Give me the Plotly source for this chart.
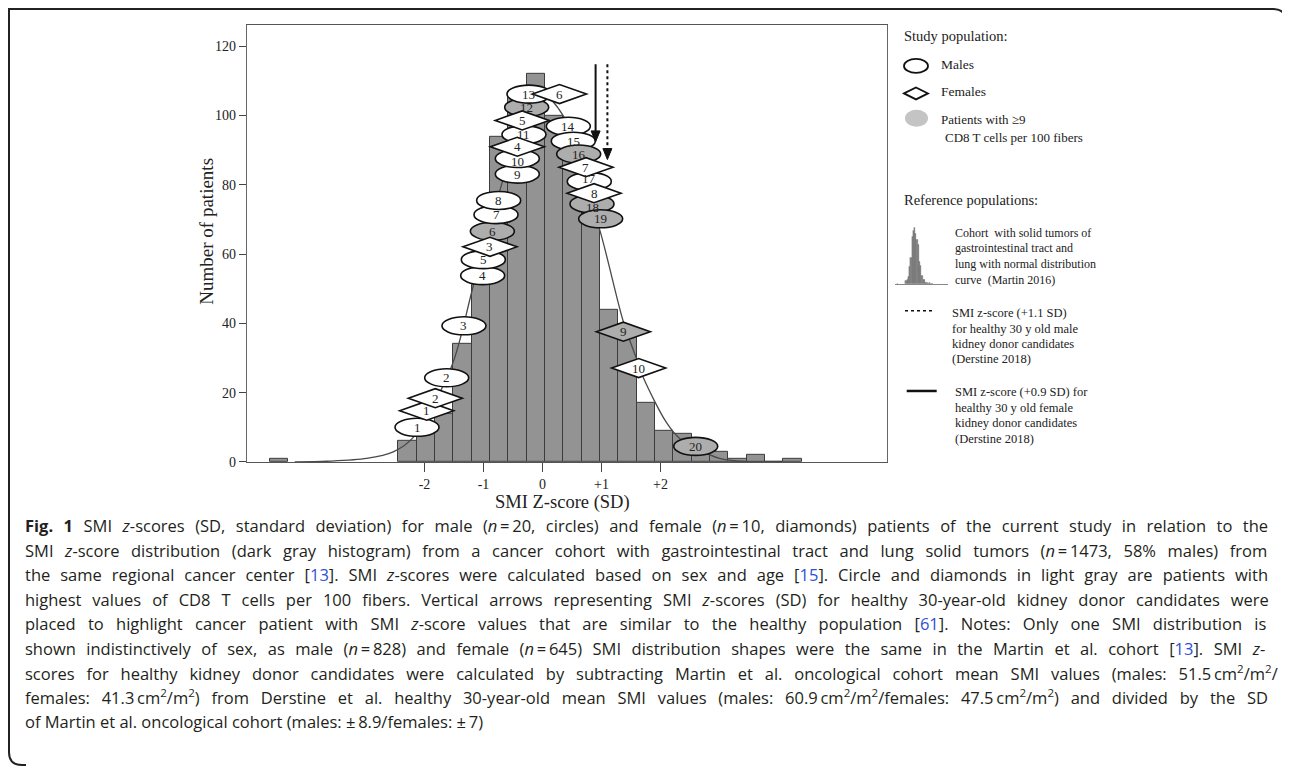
import plotly.graph_objects as go

# the page body has an 8px margin, so the figure is offset by 8px
OX, OY = 8, 8
FW, FH = 1282, 770

# ---------------- data ----------------
bin_centers = [-4.463, -2.289, -1.978, -1.667, -1.356, -1.046, -0.735, -0.424, -0.113,
               0.197, 0.508, 0.819, 1.130, 1.440, 1.751, 2.062, 2.373, 2.683, 2.994,
               3.305, 3.616, 3.926, 4.237]
counts = [1, 6, 8, 14, 34, 51, 94, 105, 112, 100, 88, 78, 44, 36, 17, 9, 8, 2, 3, 1, 2, 0, 1]
bin_width = 0.3107

curve_z = [-4.2, -3.65, -2.98, -2.53, -2.19, -1.54, -1.17, -0.66, -0.30, 0.0, 0.35,
           0.975, 1.37, 1.60, 1.71, 2.10, 2.33, 3.0, 3.35, 4.0]
curve_y = [0, 0.2, 1.0, 2.9, 7.1, 27.6, 51, 82, 101, 106, 100,
           66.7, 40.5, 29.5, 24.3, 11.4, 6.7, 1.0, 0.2, 0]

male_ids = list(range(1, 21))
male_z = [-2.127, -1.624, -1.331, -1.014, -1.003, -0.850, -0.788, -0.743, -0.427, -0.427,
          -0.314, -0.268, -0.229, 0.438, 0.522, 0.613, 0.793, 0.839, 0.986, 2.597]
male_y = [10.0, 24.3, 39.3, 53.8, 58.4, 66.6, 71.4, 75.5, 83.1, 87.6,
          94.5, 102.4, 106.2, 96.9, 92.6, 88.9, 81.0, 74.5, 70.2, 4.5]
male_high_cd8 = [False, False, False, False, False, True, False, False, False, False,
                 False, True, False, False, False, True, False, True, True, True]

female_ids = list(range(1, 11))
female_z = [-1.963, -1.817, -0.890, -0.427, -0.344, 0.288, 0.737, 0.873, 1.370, 1.630]
female_y = [14.8, 18.4, 62.1, 91.0, 98.6, 106.2, 85.1, 77.6, 37.6, 27.1]
female_high_cd8 = [False, False, False, False, False, False, False, False, True, False]

tick_vals = [-2, -1, 0, 1, 2]
tick_text = ["-2", "-1", "0", "+1", "+2"]
y_ticks = [0, 20, 40, 60, 80, 100, 120]

healthy_female_z = 0.9
healthy_male_z = 1.1
arrow_top = 114.8
arrow_tip_female = 92.4
arrow_tip_male = 87.3

# ---------------- helpers ----------------
def px(x):
    return (x - OX) / FW

def py(y):
    return 1 - (y - OY) / FH

SERIF = "Liberation Serif"
BAR_FILL = "#939393"
HI_FILL = "#adadad"

fig = go.Figure()

fig.add_trace(go.Bar(x=bin_centers, y=counts, width=bin_width,
                     marker=dict(color=BAR_FILL, line=dict(color="#3c3c3c", width=1)),
                     xaxis="x", yaxis="y", hoverinfo="skip"))
fig.add_trace(go.Scatter(x=curve_z, y=curve_y, mode="lines",
                         line=dict(color="#4a4a4a", width=1.3, shape="spline", smoothing=0.9),
                         xaxis="x", yaxis="y", hoverinfo="skip"))

# mini histogram icon in the legend
fig.add_trace(go.Bar(x=bin_centers, y=counts, width=bin_width,
                     marker=dict(color="#8a8a8a", line=dict(color="#555", width=0.3)),
                     xaxis="x2", yaxis="y2", hoverinfo="skip"))

shapes = []
annotations = []

EW, EH = 22, 9     # ellipse half sizes (px)
DW, DH = 27, 9.5   # diamond half sizes (px)
LABEL_FONT = dict(family=SERIF, size=13, color="#222")
# small pixel nudges of labels that sit in tightly stacked markers
label_nudge = {("m", 10): -3, ("m", 17): 3, ("m", 18): -4}

for i, z, y, hi in zip(male_ids, male_z, male_y, male_high_cd8):
    shapes.append(dict(type="circle", xref="x", yref="y", xsizemode="pixel", ysizemode="pixel",
                       xanchor=z, yanchor=y, x0=-EW, x1=EW, y0=-EH, y1=EH,
                       fillcolor=HI_FILL if hi else "white",
                       line=dict(color="#111", width=1.6), layer="above"))
for i, z, y, hi in zip(female_ids, female_z, female_y, female_high_cd8):
    shapes.append(dict(type="path", xref="x", yref="y", xsizemode="pixel", ysizemode="pixel",
                       xanchor=z, yanchor=y,
                       path=f"M {-DW} 0 L 0 {DH} L {DW} 0 L 0 {-DH} Z",
                       fillcolor=HI_FILL if hi else "white",
                       line=dict(color="#111", width=1.6), layer="above"))

for kind, ids, zs, ys in [("m", male_ids, male_z, male_y), ("f", female_ids, female_z, female_y)]:
    for i, z, y in zip(ids, zs, ys):
        annotations.append(dict(x=z, y=y, xref="x", yref="y", text=str(i), showarrow=False,
                                xanchor="center", yanchor="middle", yshift=label_nudge.get((kind, i), 0),
                                font=LABEL_FONT))

# arrows (line + pixel-sized triangular head)
shapes.append(dict(type="line", xref="x", yref="y", x0=healthy_female_z, x1=healthy_female_z,
                   y0=arrow_top, y1=arrow_tip_female + 2.5, line=dict(color="#111", width=2),
                   layer="above"))
shapes.append(dict(type="line", xref="x", yref="y", x0=healthy_male_z, x1=healthy_male_z,
                   y0=arrow_top, y1=arrow_tip_male + 2.5, line=dict(color="#111", width=2, dash="dot"),
                   layer="above"))
for z, tip in [(healthy_female_z, arrow_tip_female), (healthy_male_z, arrow_tip_male)]:
    shapes.append(dict(type="path", xref="x", yref="y", xsizemode="pixel", ysizemode="pixel",
                       xanchor=z, yanchor=tip, path="M -4.5 11 L 4.5 11 L 0 0 Z",
                       fillcolor="#111", line=dict(color="#111", width=1), layer="above"))

# axis titles
annotations.append(dict(x=px(207), y=py(234), xref="paper", yref="paper", text="Number of patients",
                        textangle=-90, showarrow=False, xanchor="center", yanchor="middle",
                        font=dict(family=SERIF, size=19, color="#222")))
annotations.append(dict(x=px(562), y=py(508), xref="paper", yref="paper", text="SMI Z-score (SD)",
                        showarrow=False, xanchor="center", yanchor="middle",
                        font=dict(family=SERIF, size=18.5, color="#222")))

# ---------------- legend ----------------
def leg_text(x, y, t, size=13.5):
    annotations.append(dict(x=px(x), y=py(y), xref="paper", yref="paper", text=t, showarrow=False,
                            xanchor="left", yanchor="middle", font=dict(family=SERIF, size=size, color="#222")))

leg_text(901.7, 36.5, "Study population:", 14.5)
shapes.append(dict(type="circle", xref="paper", yref="paper", xsizemode="pixel", ysizemode="pixel",
                   xanchor=px(916), yanchor=py(66.5), x0=-12, x1=12, y0=-7, y1=7,
                   fillcolor="white", line=dict(color="#111", width=1.8)))
leg_text(939.3, 65.5, "Males")
shapes.append(dict(type="path", xref="paper", yref="paper", xsizemode="pixel", ysizemode="pixel",
                   xanchor=px(916), yanchor=py(94.3), path="M -12 0 L 0 6 L 12 0 L 0 -6 Z",
                   fillcolor="white", line=dict(color="#111", width=1.8)))
leg_text(939.3, 92.5, "Females")
shapes.append(dict(type="circle", xref="paper", yref="paper", xsizemode="pixel", ysizemode="pixel",
                   xanchor=px(916.5), yanchor=py(119.5), x0=-11.5, x1=11.5, y0=-8.5, y1=8.5,
                   fillcolor="#c4c4c4", line=dict(width=0)))
leg_text(939.3, 121, "Patients with ≥9", 13)
leg_text(943.3, 138.5, "CD8 T cells per 100 fibers", 13)

leg_text(901.7, 201.7, "Reference populations:", 14.5)
for k, t in enumerate(["Cohort  with solid tumors of", "gastrointestinal tract and",
                       "lung with normal distribution", "curve  (Martin 2016)"]):
    leg_text(952.5, 235 + k * 15.8, t, 12)

shapes.append(dict(type="line", xref="paper", yref="paper", x0=px(905), x1=px(935), y0=py(314), y1=py(314),
                   line=dict(color="#111", width=1.6, dash="dot")))
for k, t in enumerate(["SMI z-score (+1.1 SD)", "for healthy 30 y old male",
                       "kidney donor candidates", "(Derstine 2018)"]):
    leg_text(950, 316.3 + k * 15.6, t, 12.5)

shapes.append(dict(type="line", xref="paper", yref="paper", x0=px(906.7), x1=px(936.7), y0=py(395), y1=py(395),
                   line=dict(color="#111", width=2.5)))
for k, t in enumerate(["SMI z-score (+0.9 SD) for", "healthy 30 y old female",
                       "kidney donor candidates", "(Derstine 2018)"]):
    leg_text(952.7, 396.3 + k * 15.7, t, 12.5)

# ---------------- caption ----------------
BLUE = "#2f4fd8"
S2 = "<sup>2</sup>"
TS = "\u2009"  # thin space (not stretched by word-spacing)
N = f"<i>n</i>{TS}={TS}"
caption = [
    f"<b>Fig. 1</b> SMI <i>z</i>-scores (SD, standard deviation) for male ({N}20, circles) and female ({N}10, diamonds) patients of the current study in relation to the",
    f"SMI <i>z</i>-score distribution (dark gray histogram) from a cancer cohort with gastrointestinal tract and lung solid tumors ({N}1473, 58% males) from",
    f"the same regional cancer center [<span style='color:{BLUE}'>13</span>]. SMI <i>z</i>-scores were calculated based on sex and age [<span style='color:{BLUE}'>15</span>]. Circle and diamonds in light gray are patients with",
    "highest values of CD8 T cells per 100 fibers. Vertical arrows representing SMI <i>z</i>-scores (SD) for healthy 30-year-old kidney donor candidates were",
    f"placed to highlight cancer patient with SMI <i>z</i>-score values that are similar to the healthy population [<span style='color:{BLUE}'>61</span>]. Notes: Only one SMI distribution is",
    f"shown indistinctively of sex, as male ({N}828) and female ({N}645) SMI distribution shapes were the same in the Martin et al. cohort [<span style='color:{BLUE}'>13</span>]. SMI <i>z</i>-",
    f"scores for healthy kidney donor candidates were calculated by subtracting Martin et al. oncological cohort mean SMI values (males: 51.5{TS}cm{S2}/m{S2}/",
    f"females: 41.3{TS}cm{S2}/m{S2}) from Derstine et al. healthy 30-year-old mean SMI values (males: 60.9{TS}cm{S2}/m{S2}/females: 47.5{TS}cm{S2}/m{S2}) and divided by the SD",
    f"of Martin et al. oncological cohort (males: ±{TS}8.9/females: ±{TS}7)",
]
# extra word spacing (px) emulating the justified caption
caption_spacing = [6.2, 7.3, 5.7, 6.7, 8.0, 6.2, 7.6, 7.5, 0]
for k, (t, ws) in enumerate(zip(caption, caption_spacing)):
    annotations.append(dict(x=px(23), y=py(531 + k * 24.75), xref="paper", yref="paper",
                            text=f"<span style='word-spacing:{ws}px'>{t}</span>",
                            showarrow=False, xanchor="left", yanchor="middle",
                            font=dict(family="Open Sans", size=16.5, color="#231f20")))

# outer frame
def P(x, y):
    return f"{px(x):.5f},{py(y):.5f}"

shapes.append(dict(type="path", xref="paper", yref="paper",
                   path=f"M {P(1286, 22)} Q {P(1286, 9)} {P(1273, 9)} L {P(9, 9)} L {P(9, 760)} "
                        f"Q {P(9, 773)} {P(22, 773)} L {P(26, 773)}",
                   line=dict(color="#222", width=2)))

fig.update_layout(
    width=FW, height=FH,
    margin=dict(l=0, r=0, t=0, b=0, pad=0),
    paper_bgcolor="white", plot_bgcolor="white",
    showlegend=False, bargap=0,
    xaxis=dict(domain=[px(247), px(887)], range=[(247 - 542.5) / 59, (887 - 542.5) / 59],
               tickvals=tick_vals, ticktext=tick_text, ticks="outside", ticklen=9, tickwidth=1.2,
               tickcolor="#444", showline=True, linecolor="#555", linewidth=1.4, mirror=True,
               showgrid=False, zeroline=False, tickfont=dict(family=SERIF, size=14, color="#222")),
    yaxis=dict(domain=[py(466.7), py(25)], range=[0, (466.7 - 25) / 3.5],
               tickvals=y_ticks, ticks="outside", ticklen=7, tickwidth=1.2, tickcolor="#444",
               showline=True, linecolor="#666", linewidth=1.4, mirror=True,
               showgrid=False, zeroline=False, tickfont=dict(family=SERIF, size=14, color="#222")),
    xaxis2=dict(domain=[px(895), px(948)], range=[-5, 8.2], anchor="y2", showticklabels=False,
                ticks="", showgrid=False, zeroline=False, showline=True, linecolor="#888", linewidth=0.8),
    yaxis2=dict(domain=[py(287), py(228)], range=[0, 115], anchor="x2", showticklabels=False,
                ticks="", showgrid=False, zeroline=False, showline=False),
    shapes=shapes,
    annotations=annotations,
)

fig.write_html("out.html")
